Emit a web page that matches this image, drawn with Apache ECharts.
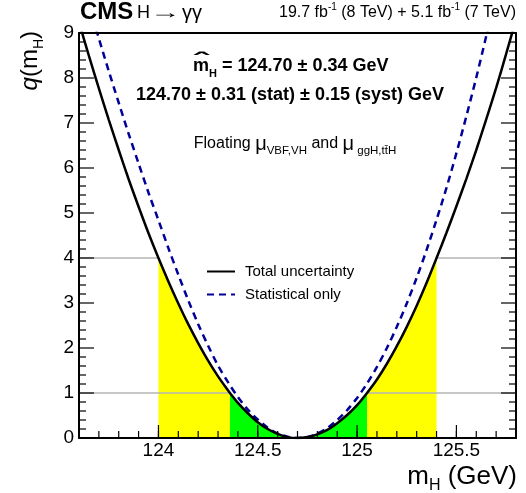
<!DOCTYPE html>
<html>
<head>
<meta charset="utf-8">
<script src="https://cdn.jsdelivr.net/npm/echarts@6/dist/echarts.min.js"></script>
<style>
  html, body { margin: 0; padding: 0; background: #fff; }
  #chart { width: 526px; height: 493px; }
</style>
</head>
<body>
<div id="chart"></div>
<script>
// m_H scan points (GeV) and the likelihood scan q(m_H)
var massValues = [123.60, 123.65, 123.70, 123.75, 123.80, 123.85, 123.90, 123.95,
	124.00, 124.05, 124.10, 124.15, 124.20, 124.25, 124.30, 124.35, 124.36,
	124.40, 124.45, 124.50, 124.55, 124.60, 124.65, 124.70, 124.75, 124.80,
	124.85, 124.90, 124.95, 125.00, 125.05, 125.10, 125.15, 125.20, 125.25,
	125.30, 125.35, 125.40, 125.45, 125.50, 125.55, 125.60, 125.65, 125.70,
	125.75, 125.80];
var qTotal = [9.24, 8.49, 7.77, 7.07, 6.40, 5.75, 5.14, 4.55,
	4.00, 3.48, 2.99, 2.53, 2.11, 1.72, 1.37, 1.06, 1.00,
	0.78, 0.55, 0.35, 0.20, 0.09, 0.02, 0.00, 0.02, 0.08,
	0.18, 0.33, 0.51, 0.73, 1.00, 1.30, 1.65, 2.04, 2.47,
	2.94, 3.45, 4.00, 4.56, 5.15, 5.76, 6.40, 7.08, 7.78,
	8.53, 9.30];
var qStat = [10.37, 9.61, 8.88, 8.15, 7.45, 6.76, 6.10, 5.45,
	4.84, 4.22, 3.63, 3.06, 2.53, 2.05, 1.61, 1.24, 1.17,
	0.91, 0.63, 0.41, 0.23, 0.10, 0.03, 0.00, 0.02, 0.10,
	0.22, 0.40, 0.62, 0.89, 1.21, 1.58, 2.00, 2.47, 2.99,
	3.56, 4.18, 4.85, 5.56, 6.33, 7.15, 8.01, 8.93, 9.89,
	10.90, 11.97];

// 68% and 95% intervals, and the q levels that define them
var interval68 = [124.36, 125.05];
var interval95 = [124.00, 125.40];
var levels = [1, 4];

// axis ranges and ticks
var xRange = [123.6, 125.8];
var yRange = [0, 9];
var xMajorTicks = [124, 124.5, 125, 125.5];
var xMinorTicks = [123.6, 123.7, 123.8, 123.9, 124.0, 124.1, 124.2, 124.3, 124.4,
	124.5, 124.6, 124.7, 124.8, 124.9, 125.0, 125.1, 125.2, 125.3, 125.4,
	125.5, 125.6, 125.7, 125.8];
var yMajorTicks = [0, 1, 2, 3, 4, 5, 6, 7, 8, 9];
var yMinorTicks = [0.2, 0.4, 0.6, 0.8, 1.2, 1.4, 1.6, 1.8, 2.2, 2.4, 2.6, 2.8,
	3.2, 3.4, 3.6, 3.8, 4.2, 4.4, 4.6, 4.8, 5.2, 5.4, 5.6, 5.8, 6.2, 6.4, 6.6, 6.8,
	7.2, 7.4, 7.6, 7.8, 8.2, 8.4, 8.6, 8.8];

var seriesNames = ['Total uncertainty', 'Statistical only'];

var FONT = 'Liberation Sans, Arial, Helvetica, sans-serif';

function pairs(ys, lo, hi){
	var out = [];
	for(var i = 0; i < massValues.length; i++){
		var m = massValues[i];
		if(lo !== undefined && (m < lo - 1e-9 || m > hi + 1e-9)){ continue; }
		out.push([m, ys[i]]);
	}
	return out;
}

function band(name, lo, hi, color){
	return {
		name: name,
		type: 'line',
		data: pairs(qTotal, lo, hi),
		symbol: 'none',
		smooth: 0.3,
		silent: true,
		z: 1,
		lineStyle: { width: 0 },
		areaStyle: { color: color, opacity: 1 }
	};
}

// grey level lines, drawn outside the parabola only
function levelLine(level, interval){
	return [
		{ name: 'lvl', type: 'line', data: [[xRange[0], level], [interval[0], level]], symbol: 'none', silent: true, z: 2,
		  lineStyle: { color: '#b4b4b4', width: 1.5 } },
		{ name: 'lvl', type: 'line', data: [[interval[1], level], [xRange[1], level]], symbol: 'none', silent: true, z: 2,
		  lineStyle: { color: '#b4b4b4', width: 1.5 } }
	];
}

// ROOT-style inside ticks (axisTick.inside does not show up here), placed through the axes
function tickSeries(values, dim, len){
	return {
		name: 'ticks',
		type: 'custom',
		silent: true,
		z: 6,
		data: values.map(function(v){ return dim === 'x' ? [v, yRange[0]] : [xRange[0], v]; }),
		renderItem: function(params, api){
			var lines = [];
			if(dim === 'x'){
				var p = api.coord([api.value(0), yRange[0]]);
				lines.push({ x1: p[0], y1: p[1], x2: p[0], y2: p[1] - len });
			}else{
				var v = api.value(1);
				var l = api.coord([xRange[0], v]);
				var r = api.coord([xRange[1], v]);
				lines.push({ x1: l[0], y1: l[1], x2: l[0] + len, y2: l[1] });
				lines.push({ x1: r[0], y1: r[1], x2: r[0] - len, y2: r[1] });
			}
			return {
				type: 'group',
				children: lines.map(function(s){
					return { type: 'line', shape: s, style: { stroke: '#000', lineWidth: 1.2 } };
				})
			};
		}
	};
}

var series = [
	band('band95', interval95[0], interval95[1], '#ffff00'),
	band('band68', interval68[0], interval68[1], '#00ff00')
].concat(levelLine(levels[0], interval68), levelLine(levels[1], interval95), [
	{
		name: seriesNames[1],
		type: 'line',
		data: pairs(qStat),
		symbol: 'none',
		smooth: 0.3,
		z: 3,
		lineStyle: { color: '#000099', width: 2.5, type: [7, 5] },
		itemStyle: { color: '#000099' }
	},
	{
		name: seriesNames[0],
		type: 'line',
		data: pairs(qTotal),
		symbol: 'none',
		smooth: 0.3,
		z: 4,
		lineStyle: { color: '#000', width: 2.5 },
		itemStyle: { color: '#000' }
	},
	tickSeries(xMajorTicks, 'x', 13),
	tickSeries(xMinorTicks, 'x', 7),
	tickSeries(yMajorTicks, 'y', 15),
	tickSeries(yMinorTicks, 'y', 7)
]);

var frameStyle = { color: '#000', width: 2 };

var chart = echarts.init(document.getElementById('chart'), null, { renderer: 'canvas' });

chart.setOption({
	animation: false,
	backgroundColor: '#fff',
	grid: { left: 79, right: 10, top: 33, bottom: 55, show: false },
	legend: {
		data: seriesNames,
		orient: 'vertical',
		left: 201,
		top: 259,
		itemWidth: 28,
		itemHeight: 14,
		itemGap: 8,
		itemStyle: { opacity: 0 },
		textStyle: { fontFamily: FONT, fontSize: 15, color: '#000', padding: [0, 0, 0, 5] }
	},
	xAxis: [
		{
			type: 'value', min: xRange[0], max: xRange[1], position: 'bottom', z: 5,
			axisLine: { show: true, onZero: false, lineStyle: frameStyle },
			axisTick: { show: false },
			axisLabel: { customValues: xMajorTicks, fontFamily: FONT, fontSize: 19, color: '#000', margin: 3 },
			splitLine: { show: false }
		},
		{
			type: 'value', min: xRange[0], max: xRange[1], position: 'top', z: 5,
			axisLine: { show: true, onZero: false, lineStyle: frameStyle },
			axisTick: { show: false }, axisLabel: { show: false }, splitLine: { show: false }
		}
	],
	yAxis: [
		{
			type: 'value', min: yRange[0], max: yRange[1], interval: 1, position: 'left', z: 5,
			axisLine: { show: true, onZero: false, lineStyle: frameStyle },
			axisTick: { show: false },
			axisLabel: { fontFamily: FONT, fontSize: 19, color: '#000', margin: 5 },
			splitLine: { show: false }
		},
		{
			type: 'value', min: yRange[0], max: yRange[1], interval: 1, position: 'right', z: 5,
			axisLine: { show: true, onZero: false, lineStyle: frameStyle },
			axisTick: { show: false }, axisLabel: { show: false }, splitLine: { show: false }
		}
	],
	graphic: [
		{ type: 'text', x: 80, y: 12, style: { text: 'CMS', fontFamily: FONT, fontSize: 24, fontWeight: 'bold', fill: '#000', verticalAlign: 'middle' } },
		{ type: 'text', x: 137, y: 13, style: { text: 'H', fontFamily: FONT, fontSize: 18, fill: '#000', verticalAlign: 'middle' } },
		{ type: 'text', x: 165, y: 13, scaleX: 1.7, style: { text: '\u2192', fontFamily: FONT, fontSize: 18, fill: '#000', align: 'center', verticalAlign: 'middle' } },
		{ type: 'text', x: 182, y: 13, style: { text: '\u03b3\u03b3', fontFamily: FONT, fontSize: 20, fill: '#000', verticalAlign: 'middle' } },
		{ type: 'text', x: 516, y: 13, style: {
			text: '19.7 fb{sup|-1} (8 TeV) + 5.1 fb{sup|-1} (7 TeV)',
			fontFamily: FONT, fontSize: 16, lineHeight: 22, fill: '#000', align: 'right', verticalAlign: 'middle',
			rich: { sup: { fontFamily: FONT, fontSize: 10, lineHeight: 10, verticalAlign: 'top', fill: '#000' } }
		} },
		{ type: 'text', x: 201, y: 61, scaleX: 2.2, style: {
			text: '\u02c6', fontFamily: FONT, fontSize: 20, fontWeight: 'bold', fill: '#000', align: 'center', verticalAlign: 'middle'
		} },
		{ type: 'text', x: 193, y: 66, style: {
			text: 'm{sub|H} = 124.70 \u00b1 0.34 GeV',
			fontFamily: FONT, fontSize: 18, fontWeight: 'bold', lineHeight: 26, fill: '#000', align: 'left', verticalAlign: 'middle',
			rich: { sub: { fontFamily: FONT, fontSize: 11, fontWeight: 'bold', lineHeight: 11, verticalAlign: 'bottom', fill: '#000' } }
		} },
		{ type: 'text', x: 290, y: 95, style: {
			text: '124.70 \u00b1 0.31 (stat) \u00b1 0.15 (syst) GeV',
			fontFamily: FONT, fontSize: 18, fontWeight: 'bold', fill: '#000', align: 'center', verticalAlign: 'middle'
		} },
		{ type: 'text', x: 295, y: 144, style: {
			text: 'Floating {mu|\u03bc}{sub|VBF,VH} and {mu|\u03bc}{sub| ggH,tt\u0304H}',
			fontFamily: FONT, fontSize: 16, lineHeight: 26, fill: '#000', align: 'center', verticalAlign: 'middle',
			rich: {
				mu: { fontFamily: FONT, fontSize: 20, lineHeight: 26, fill: '#000' },
				sub: { fontFamily: FONT, fontSize: 11.5, lineHeight: 11.5, verticalAlign: 'bottom', fill: '#000' }
			}
		} },
		{ type: 'text', x: 30, y: 31, rotation: Math.PI / 2, style: {
			text: '{q|q}(m{sub|H})',
			fontFamily: FONT, fontSize: 24, lineHeight: 32, fill: '#000', align: 'right', verticalAlign: 'middle',
			rich: {
				q: { fontFamily: FONT, fontSize: 24, fontStyle: 'italic', lineHeight: 32, fill: '#000' },
				sub: { fontFamily: FONT, fontSize: 14, lineHeight: 14, verticalAlign: 'bottom', fill: '#000' }
			}
		} },
		{ type: 'text', x: 517, y: 477, style: {
			text: 'm{sub|H} (GeV)',
			fontFamily: FONT, fontSize: 26, lineHeight: 34, fill: '#000', align: 'right', verticalAlign: 'middle',
			rich: { sub: { fontFamily: FONT, fontSize: 16, lineHeight: 16, verticalAlign: 'bottom', fill: '#000' } }
		} }
	],
	series: series
});
</script>
</body>
</html>
